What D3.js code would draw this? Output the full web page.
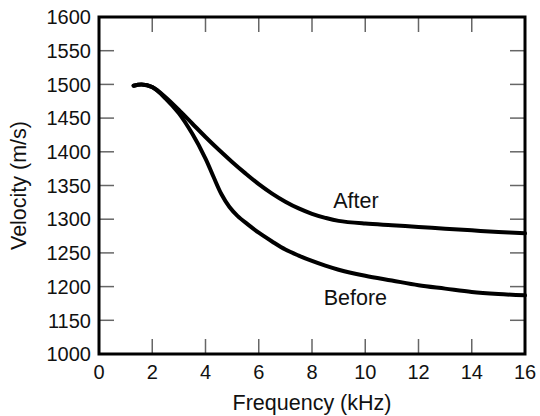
<!DOCTYPE html>
<html>
<head>
<meta charset="utf-8">
<script src="https://cdn.jsdelivr.net/npm/d3@7"></script>
<style>
  body { margin: 0; background: #fff; }
  text { font-family: "Liberation Sans", Arial, sans-serif; fill: #111; }
</style>
</head>
<body>
<div id="chart"></div>
<script>
// data (frequency in kHz, velocity in m/s)
const freqAfter = [1.3, 1.6, 2, 2.5, 3, 3.5, 4, 4.5, 5, 5.5, 6, 6.5, 7, 7.5, 8, 8.5, 9, 10, 11, 12, 13, 14, 15, 16];
const velAfter = [1498, 1500, 1496, 1481, 1462, 1442, 1422, 1403, 1385, 1368, 1352, 1338, 1326, 1316, 1308, 1302, 1297.5, 1293.5, 1291, 1288.5, 1286, 1283.5, 1281, 1279];

const freqBefore = [1.3, 1.6, 2, 2.5, 3, 3.5, 4, 4.3, 4.6, 4.9, 5.2, 5.6, 6, 6.5, 7, 7.5, 8, 8.5, 9, 10, 11, 12, 13, 14, 15, 16];
const velBefore = [1498, 1500, 1496, 1479, 1457, 1427, 1390, 1363, 1337, 1318, 1305, 1292, 1280, 1267, 1255, 1246, 1238, 1231, 1225, 1216, 1209, 1202, 1197, 1192, 1189, 1187];

const xTicks = [0, 2, 4, 6, 8, 10, 12, 14, 16];
// y axis is broken: 1000 sits one step below 1150
const yTicks = [1000, 1150, 1200, 1250, 1300, 1350, 1400, 1450, 1500, 1550, 1600];

const seriesLabels = [
    { name: 'After', f: 9.65, v: 1317 },
    { name: 'Before', f: 9.63, v: 1173 }
];

// dimensions
const dim = { width: 540, height: 416, left: 99, right: 525, top: 17, bottom: 354 };

const svg = d3.select('#chart')
    .append('svg')
    .attr('width', dim.width)
    .attr('height', dim.height);

// scales
const x = d3.scaleLinear()
    .domain([0, 16])
    .range([dim.left, dim.right]);

const step = (dim.bottom - dim.top) / 10;
const y = d3.scaleLinear()
    .domain([1000, 1150, 1600])
    .range([dim.bottom, dim.bottom - step, dim.top]);

// ticks, all pointing inward
const tickLen = 15;
const innerX = xTicks.slice(1, -1);
const innerY = yTicks.slice(1, -1);
const ticks = svg.append('g')
    .attr('stroke', '#666')
    .attr('stroke-width', 1.5);

ticks.selectAll('.tb').data(innerX).join('line')
    .attr('x1', d => x(d)).attr('x2', d => x(d))
    .attr('y1', dim.bottom).attr('y2', dim.bottom - tickLen);
ticks.selectAll('.tt').data(innerX).join('line')
    .attr('x1', d => x(d)).attr('x2', d => x(d))
    .attr('y1', dim.top).attr('y2', dim.top + tickLen);
ticks.selectAll('.tl').data(innerY).join('line')
    .attr('y1', d => y(d)).attr('y2', d => y(d))
    .attr('x1', dim.left).attr('x2', dim.left + tickLen);
ticks.selectAll('.tr').data(innerY).join('line')
    .attr('y1', d => y(d)).attr('y2', d => y(d))
    .attr('x1', dim.right).attr('x2', dim.right - tickLen);

// frame
svg.append('rect')
    .attr('x', dim.left)
    .attr('y', dim.top)
    .attr('width', dim.right - dim.left)
    .attr('height', dim.bottom - dim.top)
    .attr('fill', 'none')
    .attr('stroke', '#000')
    .attr('stroke-width', 3);

// tick labels
svg.append('g').selectAll('text').data(xTicks).join('text')
    .attr('x', d => x(d))
    .attr('y', 379)
    .attr('text-anchor', 'middle')
    .attr('font-size', 20)
    .text(d => d);

svg.append('g').selectAll('text').data(yTicks).join('text')
    .attr('x', 91)
    .attr('y', d => y(d))
    .attr('dy', '0.36em')
    .attr('text-anchor', 'end')
    .attr('font-size', 20)
    .text(d => d);

// axis titles
svg.append('text')
    .attr('x', (dim.left + dim.right) / 2)
    .attr('y', 410)
    .attr('text-anchor', 'middle')
    .attr('font-size', 21.5)
    .text('Frequency (kHz)');

svg.append('text')
    .attr('transform', `translate(26, ${(dim.top + dim.bottom) / 2}) rotate(-90)`)
    .attr('text-anchor', 'middle')
    .attr('font-size', 21.5)
    .text('Velocity (m/s)');

// curves
const line = d3.line()
    .x(d => x(d[0]))
    .y(d => y(d[1]))
    .curve(d3.curveCatmullRom.alpha(0.5));

const series = [
    d3.zip(freqAfter, velAfter),
    d3.zip(freqBefore, velBefore)
];

svg.append('g').selectAll('path').data(series).join('path')
    .attr('d', line)
    .attr('fill', 'none')
    .attr('stroke', '#000')
    .attr('stroke-width', 4)
    .attr('stroke-linecap', 'round');

// curve labels
svg.append('g').selectAll('text').data(seriesLabels).join('text')
    .attr('x', d => x(d.f))
    .attr('y', d => y(d.v))
    .attr('text-anchor', 'middle')
    .attr('font-size', 21.5)
    .text(d => d.name);
</script>
</body>
</html>
